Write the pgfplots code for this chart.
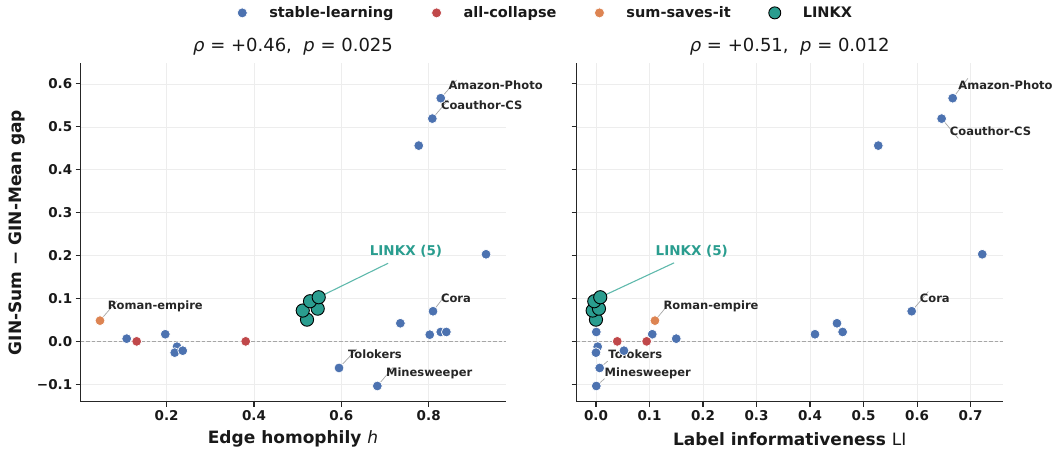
\documentclass[border=0pt]{standalone}
\usepackage{fontspec}
\setmainfont{DejaVu Sans}
\usepackage{pgfplots}
\pgfplotsset{compat=1.18}
\definecolor{cblue}{RGB}{76,114,176}
\definecolor{cred}{RGB}{192,72,74}
\definecolor{corange}{RGB}{221,132,82}
\definecolor{cteal}{RGB}{42,157,143}
\definecolor{clead}{RGB}{95,185,172}
\definecolor{ctext}{RGB}{38,38,38}
\tikzset{
  lead/.style={draw=black!35, line width=0.7pt},
  ann/.style={font=\bfseries\fontsize{11.5}{13}\selectfont, text=ctext, anchor=west, inner sep=0pt},
  zero/.style={draw=black!35, line width=0.8pt, dash pattern=on 3.5pt off 2pt},
}
\pgfplotsset{
  panel/.style={
    scale only axis, height=338.4pt,
    axis lines=left,
    every non boxed x axis/.append style={x axis line style=-},
    every non boxed y axis/.append style={y axis line style=-},
    axis line style={-, line width=1.2pt, black!85},
    tick style={line width=1.1pt, black!85},
    tick align=outside, major tick length=5pt,
    grid=major, grid style={line width=0.6pt, black!7},
    ymin=-0.1406, ymax=0.648,
    ytick={-0.1,0,0.1,0.2,0.3,0.4,0.5,0.6},
    ticklabel style={font=\bfseries\fontsize{13.5}{15}\selectfont, text=black!90},
    clip=false,
  },
  sblue/.style={only marks, mark=*, mark size=4.9pt, mark options={fill=cblue, draw=white, line width=0.7pt}},
  sred/.style={only marks, mark=*, mark size=4.9pt, mark options={fill=cred, draw=white, line width=0.7pt}},
  sorange/.style={only marks, mark=*, mark size=4.9pt, mark options={fill=corange, draw=white, line width=0.7pt}},
  slinkx/.style={only marks, mark=*, mark size=6.6pt, mark options={fill=cteal, draw=black, line width=0.9pt}},
}
\begin{document}
\begin{tikzpicture}
\path[use as bounding box] (0pt,0pt) rectangle (1052pt,449pt);

% ---------------- left panel ----------------
\begin{axis}[panel, at={(80.7pt,47.3pt)}, anchor=south west, width=425.3pt,
  xmin=0.0032, xmax=0.977,
  xtick={0.2,0.4,0.6,0.8}, xticklabels={0.2,0.4,0.6,0.8},
  yticklabels={−0.1,0.0,0.1,0.2,0.3,0.4,0.5,0.6},
  legend style={at={(axis description cs:1.0932,1.149)}, anchor=center, draw=none, fill=none,
    font=\bfseries\fontsize{14.5}{16}\selectfont, text=black!90,
    /tikz/every odd column/.append style={column sep=20pt},
    /tikz/every even column/.append style={column sep=36pt}},
  legend columns=4,
  legend image code/.code={\path[#1] plot[only marks] coordinates {(0pt,0pt)};},
]
\draw[zero] (axis cs:0.0032,0) -- (axis cs:0.977,0);
% leaders
\draw[lead] (axis cs:0.8276,0.5667) -- (axis cs:0.864,0.609);
\draw[lead] (axis cs:0.8083,0.5191) -- (axis cs:0.845,0.563);
\draw[lead] (axis cs:0.0474,0.0483) -- (axis cs:0.086,0.094);
\draw[lead] (axis cs:0.8099,0.0702) -- (axis cs:0.841,0.112);
\draw[lead] (axis cs:0.5947,-0.0620) -- (axis cs:0.635,-0.018);
\draw[lead] (axis cs:0.6824,-0.1040) -- (axis cs:0.719,-0.060);
\draw[clead, line width=1.1pt] (axis cs:0.5482,0.1028) -- (axis cs:0.707,0.182);

\addplot[sblue, legend image post style={mark size=5pt}] coordinates {
(0.8276,0.5667) (0.8083,0.5191) (0.7772,0.4562) (0.9313,0.2030)
(0.8099,0.0702) (0.7351,0.0422) (0.8024,0.0156) (0.8276,0.0219)
(0.8404,0.0219) (0.5947,-0.0620) (0.6824,-0.1040) (0.1085,0.0063)
(0.1969,0.0166) (0.2237,-0.0124) (0.2185,-0.0263) (0.2368,-0.0217)
};
\addlegendentry{stable-learning}
\addplot[sred, legend image post style={mark size=5pt}] coordinates {
(0.1314,0.0) (0.3810,0.0)
};
\addlegendentry{all-collapse}
\addplot[sorange, legend image post style={mark size=5pt}] coordinates {
(0.0474,0.0483)
};
\addlegendentry{sum-saves-it}
\addplot[slinkx, legend image post style={mark size=6.0pt}] coordinates {
(0.5214,0.0506) (0.5116,0.0718) (0.5459,0.0762) (0.5283,0.0935) (0.5482,0.1028)
};
\addlegendentry{LINKX}

\node[ann] at (axis cs:0.845,0.598) {Amazon-Photo};
\node[ann] at (axis cs:0.828,0.550) {Coauthor-CS};
\node[ann] at (axis cs:0.065,0.081) {Roman-empire};
\node[ann] at (axis cs:0.828,0.100) {Cora};
\node[ann] at (axis cs:0.615,-0.031) {Tolokers};
\node[ann] at (axis cs:0.702,-0.074) {Minesweeper};
\node[font=\bfseries\fontsize{13.5}{15}\selectfont, text=cteal, inner sep=0pt] at (axis cs:0.748,0.211) {LINKX (5)};
\end{axis}

% ---------------- right panel ----------------
\begin{axis}[panel, at={(576.7pt,47.3pt)}, anchor=south west, width=426pt,
  xmin=-0.036, xmax=0.760,
  xtick={0,0.1,0.2,0.3,0.4,0.5,0.6,0.7},
  xticklabels={0.0,0.1,0.2,0.3,0.4,0.5,0.6,0.7},
  yticklabels={},
]
\draw[zero] (axis cs:-0.036,0) -- (axis cs:0.760,0);
\draw[lead] (axis cs:0.6665,0.5667) -- (axis cs:0.695,0.613);
\draw[lead] (axis cs:0.6459,0.5191) -- (axis cs:0.677,0.473);
\draw[lead] (axis cs:0.1102,0.0483) -- (axis cs:0.141,0.095);
\draw[lead] (axis cs:0.5899,0.0702) -- (axis cs:0.621,0.116);
\draw[lead] (axis cs:0.0069,-0.0620) -- (axis cs:0.022,-0.046);
\draw[lead] (axis cs:0.0006,-0.1040) -- (axis cs:0.016,-0.087);
\draw[clead, line width=1.1pt] (axis cs:0.0080,0.1028) -- (axis cs:0.146,0.183);

\addplot[sblue] coordinates {
(0.6665,0.5667) (0.6459,0.5191) (0.5275,0.4562) (0.7218,0.2030)
(0.5899,0.0702) (0.4503,0.0422) (0.4609,0.0219) (0.4092,0.0166)
(0.1052,0.0166) (0.1500,0.0063) (0.0006,0.0219) (0.0032,-0.0124)
(0.0000,-0.0263) (0.0523,-0.0217) (0.0069,-0.0620) (0.0006,-0.1040)
};
\addplot[sred] coordinates {
(0.0398,0.0) (0.0947,0.0)
};
\addplot[sorange] coordinates {
(0.1102,0.0483)
};
\addplot[slinkx] coordinates {
(0.0000,0.0506) (-0.0062,0.0718) (0.0056,0.0762) (-0.0032,0.0935) (0.0080,0.1028)
};

\node[ann] at (axis cs:0.677,0.598) {Amazon-Photo};
\node[ann] at (axis cs:0.661,0.490) {Coauthor-CS};
\node[ann] at (axis cs:0.126,0.081) {Roman-empire};
\node[ann] at (axis cs:0.605,0.100) {Cora};
\node[ann] at (axis cs:0.023,-0.031) {Tolokers};
\node[ann] at (axis cs:0.016,-0.074) {Minesweeper};
\node[font=\bfseries\fontsize{13.5}{15}\selectfont, text=cteal, inner sep=0pt] at (axis cs:0.179,0.211) {LINKX (5)};
\end{axis}

% titles and labels
\node[font=\fontsize{18}{20}\selectfont, text=black!90] at (293pt,402pt) {\itshape ρ\/\upshape\ = +0.46,\ \ \itshape p\/\upshape\ = 0.025};
\node[font=\fontsize{18}{20}\selectfont, text=black!90] at (789.7pt,402pt) {\itshape ρ\/\upshape\ = +0.51,\ \ \itshape p\/\upshape\ = 0.012};
\node[font=\bfseries\fontsize{17}{19}\selectfont, text=black!90] at (293pt,10pt) {Edge homophily {\mdseries\itshape h}};
\node[font=\bfseries\fontsize{17}{19}\selectfont, text=black!90] at (789.7pt,10pt) {Label informativeness {\mdseries LI}};
\node[font=\bfseries\fontsize{17}{19}\selectfont, text=black!90, rotate=90] at (17pt,216.5pt) {GIN-Sum − GIN-Mean gap};
\end{tikzpicture}
\end{document}
